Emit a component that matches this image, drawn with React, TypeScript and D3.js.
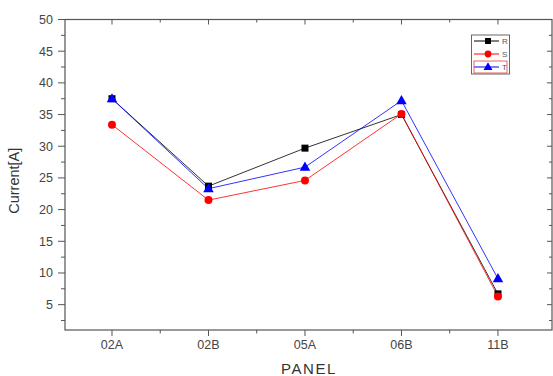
import React from "react";
import * as d3 from "d3";

const categories = ["02A", "02B", "05A", "06B", "11B"];
const seriesR = [37.5, 23.7, 29.7, 35.0, 6.7];
const seriesS = [33.4, 21.5, 24.6, 35.1, 6.3];
const seriesT = [37.5, 23.3, 26.7, 37.2, 9.1];
const yTicks = [5, 10, 15, 20, 25, 30, 35, 40, 45, 50];
const yMinor = [2.5, 7.5, 12.5, 17.5, 22.5, 27.5, 32.5, 37.5, 42.5, 47.5];
const legendNames = ["R", "S", "T"];

const W = 553, H = 376;
const L = 65, R = 552, T = 19.5, B = 330;

export default function App() {
  const x = d3.scaleLinear().domain([-0.487, 4.56]).range([L, R]);
  const y = d3.scaleLinear().domain([1, 50]).range([B, T]);
  const line = d3.line<number>().x((_, i) => x(i)).y((d) => y(d));
  const series = [
    { name: "R", data: seriesR, color: "#000000", marker: "square" },
    { name: "S", data: seriesS, color: "#ff0000", marker: "circle" },
    { name: "T", data: seriesT, color: "#0000ff", marker: "triangle" },
  ];
  const tri = d3.symbol().type(d3.symbolTriangle).size(48)() as string;
  const marker = (m: string, cx: number, cy: number, c: string, k: number, s = 1) => {
    if (m === "square") return <rect key={k} x={cx - 3.5 * s} y={cy - 3.5 * s} width={7 * s} height={7 * s} fill={c} />;
    if (m === "circle") return <circle key={k} cx={cx} cy={cy} r={4 * s} fill={c} />;
    return <path key={k} d={tri} transform={`translate(${cx},${cy + 0.5}) scale(${s})`} fill={c} />;
  };
  const minorX = [0.5, 1.5, 2.5, 3.5];
  const textColor = "#444";
  const axisColor = "#555";
  const legendY = [41, 54, 67];
  return (
    <svg width={W} height={H} style={{ position: "absolute", left: 0, top: 0, background: "#fff" }} fontFamily="Arial, Liberation Sans, sans-serif">
      <rect x={0} y={0} width={W} height={H} fill="#fff" />
      {/* frame */}
      <rect x={L} y={T} width={R - L} height={B - T} fill="none" stroke={axisColor} strokeWidth={1.2} />
      {/* left ticks */}
      {yTicks.map((t) => (
        <g key={"yt" + t}>
          <line x1={L - 7} x2={L} y1={y(t)} y2={y(t)} stroke={axisColor} />
          <line x1={R - 5} x2={R} y1={y(t)} y2={y(t)} stroke={axisColor} />
          <text x={L - 12} y={y(t)} dy="0.35em" textAnchor="end" fontSize={12.5} fill={textColor}>{t}</text>
        </g>
      ))}
      {yMinor.map((t) => (
        <g key={"ym" + t}>
          <line x1={L - 4} x2={L} y1={y(t)} y2={y(t)} stroke={axisColor} />
          <line x1={R - 3} x2={R} y1={y(t)} y2={y(t)} stroke={axisColor} />
        </g>
      ))}
      {/* x ticks */}
      {categories.map((c, i) => (
        <g key={"xt" + c}>
          <line x1={x(i)} x2={x(i)} y1={B} y2={B + 6} stroke={axisColor} />
          <line x1={x(i)} x2={x(i)} y1={T} y2={T + 5} stroke={axisColor} />
          <text x={x(i)} y={B + 19} textAnchor="middle" fontSize={12.5} fill={textColor}>{c}</text>
        </g>
      ))}
      {minorX.map((v) => (
        <g key={"xm" + v}>
          <line x1={x(v)} x2={x(v)} y1={B} y2={B + 3.5} stroke={axisColor} />
          <line x1={x(v)} x2={x(v)} y1={T} y2={T + 3} stroke={axisColor} />
        </g>
      ))}
      {/* axis titles */}
      <text x={309} y={374} textAnchor="middle" fontSize={15} letterSpacing={1.6} fill="#333">PANEL</text>
      <text transform={`translate(19,${(T + B) / 2 + 6}) rotate(-90)`} textAnchor="middle" fontSize={14.5} fill="#333">Current[A]</text>
      {/* series */}
      {series.map((s) => (
        <path key={"l" + s.name} d={line(s.data) as string} fill="none" stroke={s.color} strokeWidth={1} strokeOpacity={0.8} />
      ))}
      {series.map((s) => (
        <g key={"m" + s.name}>{s.data.map((d, i) => marker(s.marker, x(i), y(d), s.color, i))}</g>
      ))}
      {/* legend */}
      <rect x={471.5} y={35} width={38} height={39} fill="#fff" stroke="#666" strokeWidth={1} />
      {series.map((s, k) => (
        <g key={"lg" + s.name}>
          <line x1={474} x2={499} y1={legendY[k]} y2={legendY[k]} stroke={s.color} strokeWidth={1} />
          {marker(s.marker, 488, legendY[k], s.color, k, 0.85)}
          <text x={502} y={legendY[k]} dy="0.35em" fontSize={8} fill="#555">{legendNames[k]}</text>
        </g>
      ))}
      <rect x={474} y={61} width={33} height={12} fill="none" stroke="#e04040" strokeWidth={0.8} />
    </svg>
  );
}
